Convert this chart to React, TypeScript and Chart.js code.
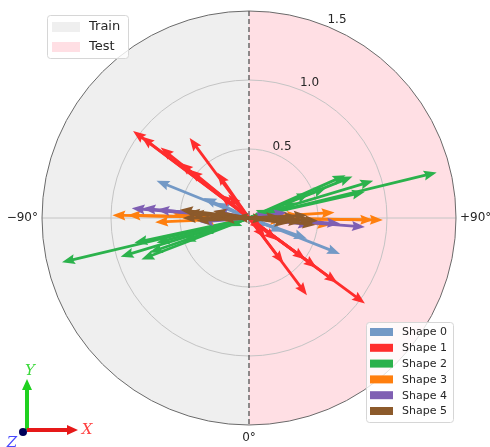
import React, { useEffect, useRef } from "react";
import { Chart, registerables } from "chart.js";

Chart.register(...registerables);

// ---------- data ----------
const shapeNames = ["Shape 0", "Shape 1", "Shape 2", "Shape 3", "Shape 4", "Shape 5"];
const shapeColors = ["#7399c6", "#ff2d2d", "#2bb24c", "#ff7f0e", "#7f5fb3", "#8c5a2b"];

const shape0Train = [[-0.67, 0.27], [-0.33, 0.145], [-0.23, 0.11], [-0.12, 0.05]];
const shape0Test = [[0.66, -0.26], [0.42, -0.15], [0.25, -0.1], [0.14, -0.06]];

const shape1Train = [[-0.84, 0.63], [-0.78, 0.59], [-0.64, 0.51], [-0.5, 0.4], [-0.43, 0.35], [-0.21, 0.17], [-0.43, 0.58], [-0.23, 0.33], [-0.15, 0.17]];
const shape1Test = [[0.84, -0.62], [0.64, -0.47], [0.49, -0.36], [0.41, -0.3], [0.2, -0.16], [0.1, -0.085], [0.42, -0.56], [0.25, -0.33], [0.12, -0.145]];

const shape2Train = [[-1.355, -0.32], [-0.83, -0.18], [-0.93, -0.28], [-0.78, -0.3], [-0.72, -0.25], [-0.67, -0.18], [-0.48, -0.17], [-0.355, -0.11], [-0.15, -0.06]];
const shape2Test = [[1.36, 0.33], [0.84, 0.19], [0.9, 0.27], [0.75, 0.3], [0.7, 0.31], [0.56, 0.22], [0.44, 0.18], [0.35, 0.11], [0.15, 0.06]];

const shape3Train = [[-0.99, 0.02], [-0.88, 0.02], [-0.68, -0.03], [-0.55, 0.03], [-0.35, -0.02], [-0.25, 0.01]];
const shape3Test = [[0.97, -0.015], [0.9, -0.015], [0.62, 0.04], [0.59, -0.05], [0.37, 0.02], [0.25, -0.02]];

const shape4Train = [[-0.85, 0.07], [-0.77, 0.07], [-0.67, 0.06], [-0.355, -0.03], [-0.25, 0.05]];
const shape4Test = [[0.84, -0.065], [0.66, -0.04], [0.45, -0.05], [0.275, 0.04], [0.15, 0.02]];

const shape5Train = [[-0.5, 0.06], [-0.48, 0.0], [-0.45, 0.04], [-0.42, 0.03], [-0.38, -0.02], [-0.3, 0.02], [-0.26, 0.05], [-0.2, -0.01], [-0.1, 0.01]];
const shape5Test = [[0.5, -0.02], [0.48, -0.05], [0.46, -0.015], [0.42, 0.02], [0.38, -0.03], [0.35, 0.01], [0.28, -0.04], [0.22, 0.01], [0.12, -0.01]];

const trainSets = [shape0Train, shape1Train, shape2Train, shape3Train, shape4Train, shape5Train];
const testSets = [shape0Test, shape1Test, shape2Test, shape3Test, shape4Test, shape5Test];

const rTicks = [0.5, 1.0, 1.5];
const rTickLabels = ["0.5", "1.0", "1.5"];
const thetaLabels = ["\u221290\u00b0", "+90\u00b0", "0\u00b0"];
const splitLabels = ["Train", "Test"];
const splitColors = ["#efefef", "#ffdfe4"];
const rMax = 1.5;

const FONT = "'DejaVu Sans', sans-serif";

function drawArrow(ctx: CanvasRenderingContext2D, x0: number, y0: number, x1: number, y1: number, color: string,
  shaft: number, headW: number, headL: number, headAxis: number) {
  const dx = x1 - x0, dy = y1 - y0;
  const len = Math.hypot(dx, dy);
  if (len < 0.5) return;
  const ux = dx / len, uy = dy / len;
  const px = -uy, py = ux;
  let s = 1;
  if (len < headL) s = len / headL;
  const hl = headL * s, ha = headAxis * s, hw = headW * s, sw = shaft / 2;
  const nx = x1 - ux * ha, ny = y1 - uy * ha;
  const bx = x1 - ux * hl, by = y1 - uy * hl;
  ctx.beginPath();
  ctx.moveTo(x0 + px * sw, y0 + py * sw);
  ctx.lineTo(nx + px * sw, ny + py * sw);
  ctx.lineTo(bx + px * hw, by + py * hw);
  ctx.lineTo(x1, y1);
  ctx.lineTo(bx - px * hw, by - py * hw);
  ctx.lineTo(nx - px * sw, ny - py * sw);
  ctx.lineTo(x0 - px * sw, y0 - py * sw);
  ctx.closePath();
  ctx.fillStyle = color;
  ctx.fill();
}

function roundRect(ctx: CanvasRenderingContext2D, x: number, y: number, w: number, h: number, r: number) {
  ctx.beginPath();
  ctx.moveTo(x + r, y);
  ctx.lineTo(x + w - r, y);
  ctx.quadraticCurveTo(x + w, y, x + w, y + r);
  ctx.lineTo(x + w, y + h - r);
  ctx.quadraticCurveTo(x + w, y + h, x + w - r, y + h);
  ctx.lineTo(x + r, y + h);
  ctx.quadraticCurveTo(x, y + h, x, y + h - r);
  ctx.lineTo(x, y + r);
  ctx.quadraticCurveTo(x, y, x + r, y);
  ctx.closePath();
}

const polarPlugin = {
  id: "polarDecor",
  beforeDatasetsDraw(chart: any) {
    const ctx = chart.ctx as CanvasRenderingContext2D;
    const xs = chart.scales.x, ys = chart.scales.y;
    const cx = xs.getPixelForValue(0), cy = ys.getPixelForValue(0);
    const R = xs.getPixelForValue(rMax) - cx;
    ctx.save();
    ctx.beginPath();
    ctx.moveTo(cx, cy);
    ctx.arc(cx, cy, R, Math.PI / 2, Math.PI * 1.5);
    ctx.closePath();
    ctx.fillStyle = splitColors[0];
    ctx.fill();
    ctx.beginPath();
    ctx.moveTo(cx, cy);
    ctx.arc(cx, cy, R, -Math.PI / 2, Math.PI / 2);
    ctx.closePath();
    ctx.fillStyle = splitColors[1];
    ctx.fill();
    ctx.strokeStyle = "#c4c4c4";
    ctx.lineWidth = 1;
    rTicks.forEach((r) => {
      if (r >= rMax) return;
      const rp = xs.getPixelForValue(r) - cx;
      ctx.beginPath();
      ctx.arc(cx, cy, rp, 0, Math.PI * 2);
      ctx.stroke();
    });
    ctx.beginPath();
    ctx.moveTo(cx - R, cy);
    ctx.lineTo(cx + R, cy);
    ctx.stroke();
    ctx.strokeStyle = "#6a6a6a";
    ctx.lineWidth = 1;
    ctx.beginPath();
    ctx.arc(cx, cy, R, 0, Math.PI * 2);
    ctx.stroke();
    ctx.strokeStyle = "#555555";
    ctx.lineWidth = 1.3;
    ctx.setLineDash([5, 3]);
    ctx.beginPath();
    ctx.moveTo(cx, cy - R);
    ctx.lineTo(cx, cy + R);
    ctx.stroke();
    ctx.setLineDash([]);
    ctx.restore();
  },
  afterDatasetDraw(chart: any, args: any) {
    const ctx = chart.ctx as CanvasRenderingContext2D;
    const xs = chart.scales.x, ys = chart.scales.y;
    const ds = chart.data.datasets[args.index];
    const p0 = ds.data[0], p1 = ds.data[1];
    ctx.save();
    drawArrow(ctx, xs.getPixelForValue(p0.x), ys.getPixelForValue(p0.y),
      xs.getPixelForValue(p1.x), ys.getPixelForValue(p1.y), ds.borderColor, 2.8, 5, 13, 11.5);
    ctx.restore();
  },
  afterDraw(chart: any) {
    const ctx = chart.ctx as CanvasRenderingContext2D;
    const xs = chart.scales.x, ys = chart.scales.y;
    const cx = xs.getPixelForValue(0), cy = ys.getPixelForValue(0);
    const R = xs.getPixelForValue(rMax) - cx;
    ctx.save();
    ctx.fillStyle = "#262626";
    ctx.font = `12px ${FONT}`;
    ctx.textAlign = "center";
    ctx.textBaseline = "middle";
    const a = (23.5 * Math.PI) / 180;
    rTicks.forEach((r, i) => {
      const rp = xs.getPixelForValue(r) - cx + 10;
      ctx.fillText(rTickLabels[i], cx + rp * Math.sin(a) + 1.5, cy - rp * Math.cos(a) + 1);
    });
    ctx.textAlign = "right";
    ctx.fillText(thetaLabels[0], cx - R - 4, cy);
    ctx.textAlign = "left";
    ctx.fillText(thetaLabels[1], cx + R + 4, cy);
    ctx.textAlign = "center";
    ctx.fillText(thetaLabels[2], cx, cy + R + 13);

    roundRect(ctx, 47.5, 15.5, 81, 43, 3);
    ctx.fillStyle = "rgba(255,255,255,0.8)";
    ctx.fill();
    ctx.strokeStyle = "#d6d6d6";
    ctx.lineWidth = 1;
    ctx.stroke();
    ctx.font = `13px ${FONT}`;
    ctx.textAlign = "left";
    splitLabels.forEach((lab, i) => {
      const yc = 27 + i * 20;
      ctx.fillStyle = splitColors[i];
      ctx.fillRect(52, yc - 5, 28, 10);
      ctx.fillStyle = "#262626";
      ctx.fillText(lab, 89, yc);
    });

    roundRect(ctx, 366.5, 322.5, 87, 100, 3);
    ctx.fillStyle = "rgba(255,255,255,0.8)";
    ctx.fill();
    ctx.strokeStyle = "#d6d6d6";
    ctx.stroke();
    ctx.font = `11px ${FONT}`;
    shapeNames.forEach((lab, i) => {
      const yc = 332 + i * 15.8;
      ctx.fillStyle = shapeColors[i];
      ctx.fillRect(370, yc - 4, 23, 8);
      ctx.fillStyle = "#262626";
      ctx.fillText(lab, 402, yc + 0.5);
    });

    const ox = 27, oy = 430;
    drawArrow(ctx, ox, oy, ox, 379, "#1fd11f", 4, 5, 11, 11);
    drawArrow(ctx, ox, oy, 78, oy, "#e61919", 4, 5, 11, 11);
    ctx.beginPath();
    ctx.arc(23, 432, 4, 0, Math.PI * 2);
    ctx.fillStyle = "#00005a";
    ctx.fill();
    ctx.font = `italic 15px 'DejaVu Serif', serif`;
    ctx.textAlign = "center";
    ctx.fillStyle = "#3ad83a";
    ctx.fillText("Y", 30, 371);
    ctx.fillStyle = "#ff4040";
    ctx.fillText("X", 87, 430);
    ctx.fillStyle = "#4a4aff";
    ctx.fillText("Z", 12, 443);
    ctx.restore();
  },
};

export default function App() {
  const ref = useRef<HTMLCanvasElement>(null);
  useEffect(() => {
    if (!ref.current) return;
    const datasets: any[] = [];
    shapeNames.forEach((name, i) => {
      [trainSets[i], testSets[i]].forEach((list) => {
        list.forEach(([x, y]) => {
          datasets.push({
            label: name,
            data: [{ x: 0, y: 0 }, { x, y }],
            borderColor: shapeColors[i],
            backgroundColor: shapeColors[i],
            showLine: false,
            pointRadius: 0,
            pointHoverRadius: 0,
          });
        });
      });
    });
    // Chart.js paints the last dataset first; reverse so Shape 5 ends up on top
    datasets.reverse();
    const chart = new Chart(ref.current, {
      type: "scatter",
      data: { datasets },
      options: {
        responsive: false,
        animation: false,
        events: [],
        layout: { padding: { left: 42, right: 34, top: 11, bottom: 22 } },
        scales: {
          x: { type: "linear", min: -rMax, max: rMax, display: false },
          y: { type: "linear", min: -rMax, max: rMax, display: false },
        },
        plugins: { legend: { display: false }, tooltip: { enabled: false } },
      },
      plugins: [polarPlugin],
    });
    return () => chart.destroy();
  }, []);
  return (
    <div style={{ position: "fixed", left: 0, top: 0, width: 490, height: 447, background: "#fff" }}>
      <canvas ref={ref} width={490} height={447} style={{ width: 490, height: 447, display: "block" }} />
    </div>
  );
}
